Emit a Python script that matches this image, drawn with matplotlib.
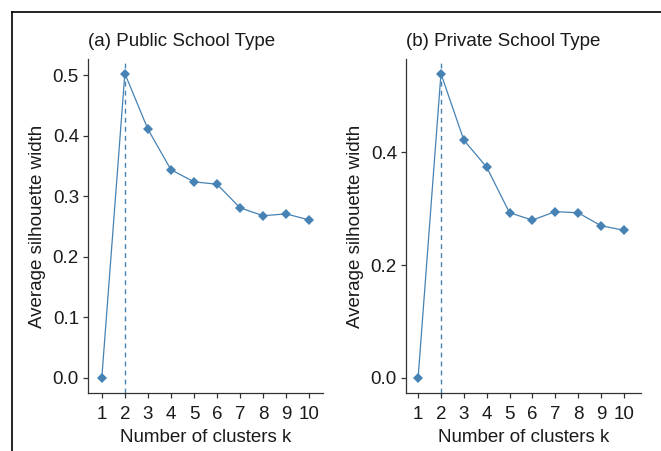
from typing import List

import matplotlib

matplotlib.use("Agg")
import matplotlib.pyplot as plt
from matplotlib.lines import Line2D
from matplotlib.ticker import FormatStrFormatter

# Number of clusters tried
k_values = [1, 2, 3, 4, 5, 6, 7, 8, 9, 10]

# Average silhouette width for each k
public_width = [0.0, 0.503, 0.411, 0.344, 0.324, 0.320, 0.281, 0.268, 0.271, 0.261]
private_width = [0.0, 0.540, 0.422, 0.374, 0.293, 0.280, 0.295, 0.293, 0.270, 0.262]

titles = ["(a) Public School Type", "(b) Private School Type"]
public_yticks = [0.0, 0.1, 0.2, 0.3, 0.4, 0.5]
private_yticks = [0.0, 0.2, 0.4]
best_k = 2

LINE_COLOR = "#4682B4"
FONT_SIZE = 13.5


def draw_panel(ax, widths: List[float], title: str, yticks: List[float],
               xlim, ylim) -> None:
    """Draw one silhouette curve in a ggplot classic-ish style.

    Args:
        ax: matplotlib axes
        widths (List[float]): average silhouette width per k
        title (str): panel title
        yticks (List[float]): tick positions on y
    """
    ax.plot(k_values, widths, color=LINE_COLOR, lw=0.9, marker="D",
            markersize=5, markeredgewidth=0)
    ax.axvline(best_k, color=LINE_COLOR, lw=1.0, linestyle=(0, (3.5, 3)))

    ax.set_xlim(*xlim)
    ax.set_ylim(*ylim)
    ax.set_xticks(k_values)
    ax.set_yticks(yticks)
    ax.yaxis.set_major_formatter(FormatStrFormatter("%.1f"))

    for side in ["top", "right"]:
        ax.spines[side].set_visible(False)
    for side in ["left", "bottom"]:
        ax.spines[side].set_color("#333333")
        ax.spines[side].set_linewidth(0.9)
    ax.tick_params(direction="out", length=3.5, width=0.9, color="#333333",
                   labelsize=FONT_SIZE, labelcolor="#1a1a1a", pad=3)
    ax.tick_params(axis="x", pad=6)

    ax.set_xlabel("Number of clusters k", fontsize=FONT_SIZE, labelpad=4,
                  color="#1a1a1a")
    ax.set_ylabel("Average silhouette width", fontsize=FONT_SIZE, labelpad=5,
                  color="#1a1a1a")
    ax.set_title(title, loc="left", fontsize=FONT_SIZE, pad=9, color="#1a1a1a")


def main():
    plt.rcParams["font.family"] = ["Liberation Sans", "DejaVu Sans"]

    fig = plt.figure(figsize=(6.61, 4.51), dpi=100)

    ax_a = fig.add_axes([0.1331, 0.1286, 0.3556, 0.7406])
    draw_panel(ax_a, public_width, titles[0], public_yticks,
               xlim=(0.4, 10.6), ylim=(-0.025, 0.527))

    ax_b = fig.add_axes([0.6142, 0.1286, 0.3555, 0.7406])
    draw_panel(ax_b, private_width, titles[1], private_yticks,
               xlim=(0.47, 10.75), ylim=(-0.027, 0.566))

    # frame lines from the screenshot (top and left edges only)
    fig.add_artist(Line2D([12 / 661, 1.0], [1 - 12 / 451, 1 - 12 / 451],
                          color="black", lw=1.2, transform=fig.transFigure))
    fig.add_artist(Line2D([12 / 661, 12 / 661], [0.0, 1 - 12 / 451],
                          color="black", lw=1.2, transform=fig.transFigure))

    fig.savefig("out.png", dpi=100)


if __name__ == "__main__":
    main()
